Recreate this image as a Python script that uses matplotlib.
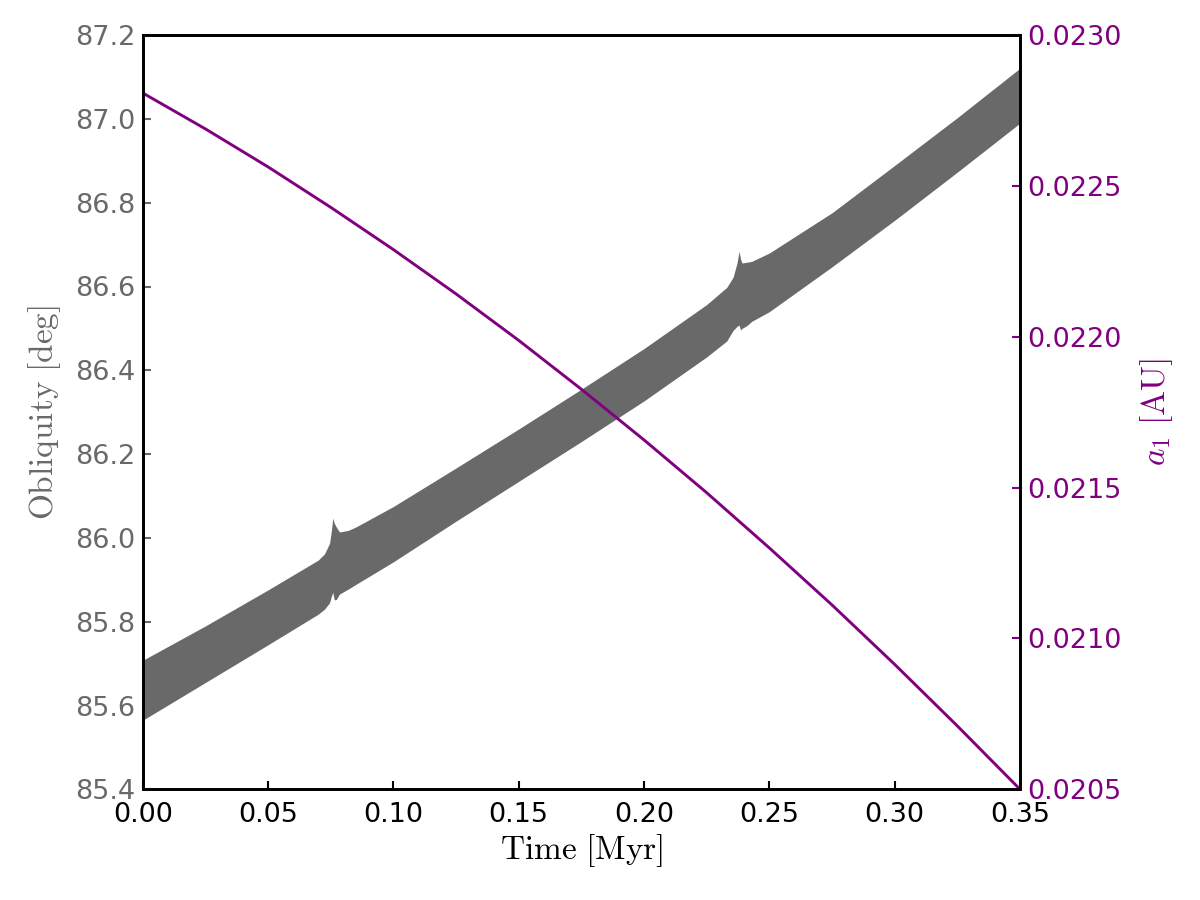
import numpy as np
import matplotlib
matplotlib.use("Agg")
import matplotlib.pyplot as plt

plt.rcParams['mathtext.fontset'] = 'cm'

## Obliquite : enveloppe de la bande
t_obl = [0.000, 0.025, 0.050, 0.070, 0.0725, 0.0745, 0.0752, 0.0758, 0.0764, 0.0772,
         0.0785, 0.082, 0.085, 0.100, 0.125, 0.150, 0.175, 0.200, 0.225, 0.2330,
         0.2355, 0.2371, 0.2379, 0.2385, 0.2391, 0.2411, 0.2430, 0.250, 0.275,
         0.300, 0.325, 0.350]
obl_up = [85.708, 85.790, 85.876, 85.947, 85.962, 85.987, 86.015, 86.047, 86.035, 86.026,
          86.014, 86.018, 86.026, 86.075, 86.167, 86.260, 86.355, 86.452, 86.557, 86.598,
          86.622, 86.656, 86.684, 86.665, 86.656, 86.658, 86.660, 86.680, 86.776,
          86.889, 87.003, 87.121]
obl_lo = [85.565, 85.655, 85.745, 85.818, 85.830, 85.845, 85.860, 85.870, 85.852, 85.853,
          85.866, 85.878, 85.889, 85.943, 86.040, 86.135, 86.230, 86.327, 86.432, 86.470,
          86.495, 86.505, 86.508, 86.496, 86.500, 86.507, 86.517, 86.540, 86.647,
          86.758, 86.873, 86.990]

## Demi grand axe a1
t_a = [0.0, 0.025, 0.05, 0.075, 0.10, 0.125, 0.15, 0.175, 0.20, 0.225, 0.25,
       0.275, 0.30, 0.325, 0.35]
a1 = [0.022808, 0.022689, 0.022563, 0.022429, 0.022289, 0.022142, 0.021988, 0.021826,
      0.021658, 0.021483, 0.021300, 0.021111, 0.020914, 0.020710, 0.020500]

gris = '#696969'
violet = '#800080'

fig = plt.figure(figsize=(8, 6), dpi=150)
ax = fig.add_axes([0.119, 0.123, 0.731, 0.838])
ax.fill_between(t_obl, obl_lo, obl_up, color=gris, linewidth=0)
ax.set_xlim(0, 0.35)
ax.set_ylim(85.4, 87.2)
ax.set_xticks(np.arange(0, 0.351, 0.05))
ax.set_xticklabels(['%.2f' % v for v in np.arange(0, 0.351, 0.05)])
ax.set_yticks(np.arange(85.4, 87.21, 0.2))
ax.set_yticklabels(['%.1f' % v for v in np.arange(85.4, 87.21, 0.2)])
ax.tick_params(direction='in', length=4, width=1, labelsize=13)
ax.tick_params(axis='y', colors=gris, labelcolor=gris)
ax.tick_params(axis='x', colors='black', pad=6)
ax.set_xlabel(r'$\mathrm{Time\ [Myr]}$', fontsize=16, labelpad=2)
ax.set_ylabel(r'$\mathrm{Obliquity\ [deg]}$', fontsize=16, color=gris, labelpad=6)
for s in ax.spines.values():
    s.set_linewidth(1.3)

ax2 = ax.twinx()
ax2.plot(t_a, a1, color=violet, lw=1.4)
ax2.set_ylim(0.0205, 0.0230)
ax2.set_yticks(np.arange(0.0205, 0.02301, 0.0005))
ax2.set_yticklabels(['%.4f' % v for v in np.arange(0.0205, 0.02301, 0.0005)])
ax2.tick_params(direction='in', length=4, width=1, labelsize=13, colors=violet)
ax2.set_ylabel(r'$a_1\ \mathrm{[AU]}$', fontsize=16, color=violet, labelpad=8)
for s in ax2.spines.values():
    s.set_linewidth(1.3)

fig.savefig('out.png', dpi=150)
